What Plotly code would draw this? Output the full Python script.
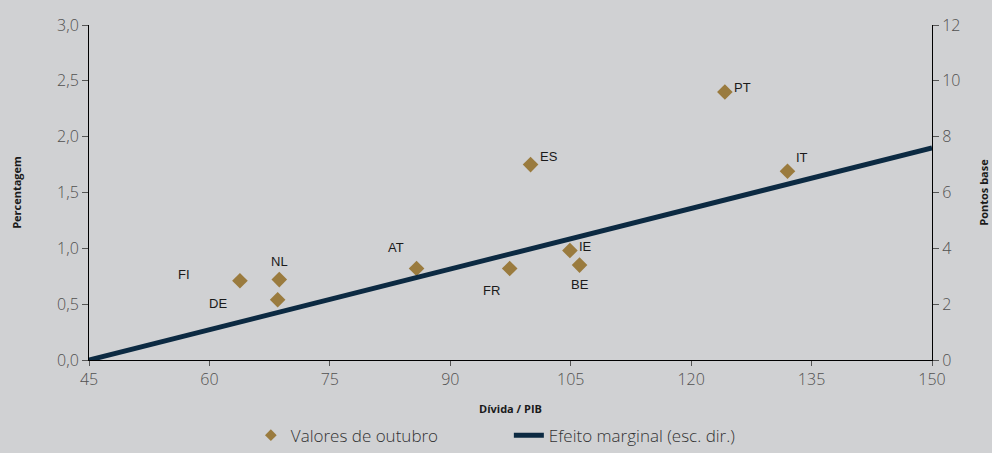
import plotly.graph_objects as go

countries = ["FI", "DE", "NL", "AT", "FR", "ES", "IE", "BE", "PT", "IT"]
debt_gdp = [63.8, 68.5, 68.7, 85.8, 97.4, 100.0, 104.9, 106.1, 124.2, 132.0]
october_values = [0.71, 0.54, 0.72, 0.82, 0.82, 1.75, 0.98, 0.85, 2.40, 1.69]

line_x = [45, 150]
marginal_effect = [0.0, 7.6]

x_ticks = [45, 60, 75, 90, 105, 120, 135, 150]
y_ticks = [0, 0.5, 1.0, 1.5, 2.0, 2.5, 3.0]
y_tick_labels = ["0,0", "0,5", "1,0", "1,5", "2,0", "2,5", "3,0"]
y2_ticks = [0, 2, 4, 6, 8, 10, 12]

# label offsets in pixels (styling)
label_dx = [-56, -60, 0, -21, -18, 18, 16, 0, 18, 15]
label_dy = [6, -4, 18, 21, -22, 8, 4, -19, 5, 14]

BG = "#d0d1d3"
GOLD = "#9a7b3e"
NAVY = "#0c2a42"
TICKFONT = dict(family="Open Sans", size=16, color="#505050", weight=300)
TITLEFONT = dict(family="Open Sans", size=11, color="#1a1a1a", weight=700)

fig = go.Figure()
fig.add_trace(go.Scatter(
    x=debt_gdp, y=october_values, mode="markers", name="Valores de outubro",
    marker=dict(symbol="diamond", size=12, color=GOLD), showlegend=False,
))
# legend entry with a smaller diamond, as in the original legend
fig.add_trace(go.Scatter(
    x=[None], y=[None], mode="markers", name="Valores de outubro",
    marker=dict(symbol="diamond", size=9, color=GOLD),
))
fig.add_trace(go.Scatter(
    x=line_x, y=marginal_effect, mode="lines", name="Efeito marginal (esc. dir.)",
    line=dict(color=NAVY, width=5), yaxis="y2",
))

for c, x, y, dx, dy in zip(countries, debt_gdp, october_values, label_dx, label_dy):
    fig.add_annotation(x=x, y=y, text=c, showarrow=False, xshift=dx, yshift=dy,
                       font=dict(family="Liberation Sans", size=13, color="#1a1a1a"))

fig.update_layout(
    width=992, height=453,
    paper_bgcolor=BG, plot_bgcolor=BG,
    margin=dict(l=89, r=60, t=25, b=93, autoexpand=False),
    showlegend=True,
    legend=dict(orientation="h", x=0.192, xanchor="left", y=-0.172, yanchor="top",
                font=dict(family="Open Sans", size=17, color="#333333", weight=300),
                entrywidth=213, entrywidthmode="pixels", bgcolor="rgba(0,0,0,0)",
                borderwidth=0),
    xaxis=dict(range=[45, 150], tickvals=x_ticks, showgrid=False, zeroline=False,
               showline=True, linecolor="#000000", linewidth=1, ticks="outside",
               ticklen=5, tickcolor="#555555", tickfont=TICKFONT,
               title=dict(text="Dívida / PIB", font=TITLEFONT, standoff=16)),
    yaxis=dict(range=[0, 3], tickvals=y_ticks, ticktext=y_tick_labels, showgrid=False,
               zeroline=False, showline=True, linecolor="#000000", linewidth=1,
               ticks="outside", ticklen=6, tickcolor="#555555", tickfont=TICKFONT,
               title=dict(text="Percentagem", font=TITLEFONT, standoff=33)),
    yaxis2=dict(range=[0, 12], tickvals=y2_ticks, overlaying="y", side="right",
                showgrid=False, zeroline=False, showline=True, linecolor="#000000",
                linewidth=1, ticks="outside", ticklen=6, tickcolor="#555555",
                tickfont=TICKFONT,
                title=dict(text="Pontos base", font=TITLEFONT, standoff=20)),
)

fig.write_html("out.html", config={"displayModeBar": False},
               post_script="document.body.style.margin='0';document.body.style.background='" + BG + "';")
